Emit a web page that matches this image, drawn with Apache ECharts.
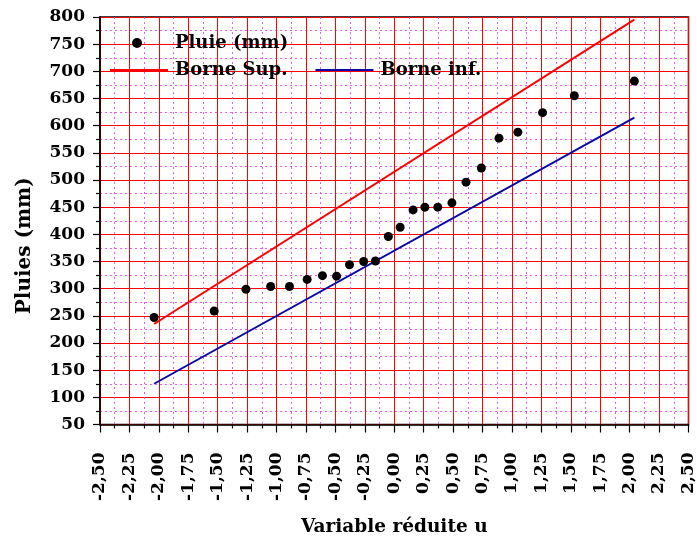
<!DOCTYPE html>
<html>
<head>
<meta charset="utf-8">
<script src="https://cdn.jsdelivr.net/npm/echarts@6/dist/echarts.min.js"></script>
<style>
  html, body { margin: 0; padding: 0; background: #fff; }
  #chart { width: 697px; height: 542px; }
</style>
</head>
<body>
<div id="chart"></div>
<script>
// Reduced variable u for each observed rainfall total
var uValues = [-2.04, -1.53, -1.26, -1.05, -0.89, -0.74, -0.61, -0.49, -0.38, -0.26, -0.16, -0.05,
               0.05, 0.16, 0.26, 0.37, 0.49, 0.61, 0.74, 0.89, 1.05, 1.26, 1.53, 2.04];
// Observed rainfall (mm)
var pluie = [247, 259, 299, 304, 304, 317, 324, 323, 344, 350, 351, 396,
             413, 445, 450, 450, 458, 496, 522, 577, 588, 624, 655, 682];
// Confidence bounds: endpoints in u and mm
var borneU = [-2.04, 2.04];
var borneSup = [235, 795];
var borneInf = [125, 615];

var FONT = 'DejaVu Serif';

function pairs(xs, ys) {
  return xs.map(function (x, i) { return [x, ys[i]]; });
}

var chart = echarts.init(document.getElementById('chart'), null, { renderer: 'canvas' });

chart.setOption({
  animation: false,
  backgroundColor: '#fff',
  grid: {
    left: 100, right: 7, top: 17, bottom: 117.5,
    show: true, borderColor: '#000', borderWidth: 1.5, backgroundColor: 'transparent'
  },
  legend: [
    {
      data: ['Pluie (mm)'],
      left: 127, top: 29,
      itemWidth: 10, itemHeight: 10,
      icon: 'circle',
      textStyle: { fontFamily: FONT, fontWeight: 'bold', fontSize: 18, color: '#000', padding: [0, 0, 0, 28] }
    },
    {
      data: ['Borne Sup.', 'Borne inf.'],
      left: 105, top: 56,
      itemWidth: 58, itemHeight: 2, itemGap: 28,
      icon: 'rect',
      textStyle: { fontFamily: FONT, fontWeight: 'bold', fontSize: 18, color: '#000', padding: [0, 0, 0, 2] }
    }
  ],
  xAxis: {
    type: 'value',
    min: -2.5, max: 2.5, interval: 0.25,
    name: 'Variable réduite u',
    nameLocation: 'middle',
    nameGap: 93,
    nameTextStyle: { fontFamily: FONT, fontWeight: 'bold', fontSize: 18.5, color: '#000' },
    axisLine: { show: true, onZero: false, lineStyle: { color: '#000', width: 1.5 } },
    axisTick: { show: true, inside: false, length: 8, lineStyle: { color: '#000', width: 1.2 } },
    minorTick: { show: true, splitNumber: 2, length: 4, lineStyle: { color: '#000', width: 1.2 } },
    splitLine: { show: true, lineStyle: { color: '#ff0000', width: 1 } },
    minorSplitLine: { show: true, lineStyle: { color: '#ec5aec', width: 1, type: [2, 3] } },
    axisLabel: {
      rotate: 90, margin: 28,
      fontFamily: FONT, fontWeight: 'bold', fontSize: 17, color: '#000',
      formatter: function (v) { return v.toFixed(2).replace('.', ','); }
    }
  },
  yAxis: {
    type: 'value',
    min: 50, max: 800, interval: 50,
    name: 'Pluies (mm)',
    nameLocation: 'middle',
    nameGap: 65,
    nameRotate: 90,
    nameTextStyle: { fontFamily: FONT, fontWeight: 'bold', fontSize: 20, color: '#000', padding: [0, 50, 0, 0] },
    axisLine: { show: true, onZero: false, lineStyle: { color: '#000', width: 1.5 } },
    axisTick: { show: true, inside: false, length: 7, lineStyle: { color: '#000', width: 1.2 } },
    minorTick: { show: true, splitNumber: 2, length: 4, lineStyle: { color: '#000', width: 1.2 } },
    splitLine: { show: true, lineStyle: { color: '#ff0000', width: 1 } },
    minorSplitLine: { show: true, lineStyle: { color: '#ec5aec', width: 1, type: [2, 3] } },
    axisLabel: {
      margin: 15,
      fontFamily: FONT, fontWeight: 'bold', fontSize: 17, color: '#000'
    }
  },
  series: [
    {
      name: 'Pluie (mm)',
      type: 'scatter',
      data: pairs(uValues, pluie),
      symbol: 'circle',
      symbolSize: 9,
      itemStyle: { color: '#000', opacity: 1 },
      z: 5
    },
    {
      name: 'Borne Sup.',
      type: 'line',
      data: pairs(borneU, borneSup),
      showSymbol: false,
      symbol: 'none',
      lineStyle: { color: '#ff0000', width: 2 },
      itemStyle: { color: '#ff0000' },
      z: 4
    },
    {
      name: 'Borne inf.',
      type: 'line',
      data: pairs(borneU, borneInf),
      showSymbol: false,
      symbol: 'none',
      lineStyle: { color: '#0808a8', width: 2 },
      itemStyle: { color: '#0808a8' },
      z: 4
    }
  ]
});
</script>
</body>
</html>
